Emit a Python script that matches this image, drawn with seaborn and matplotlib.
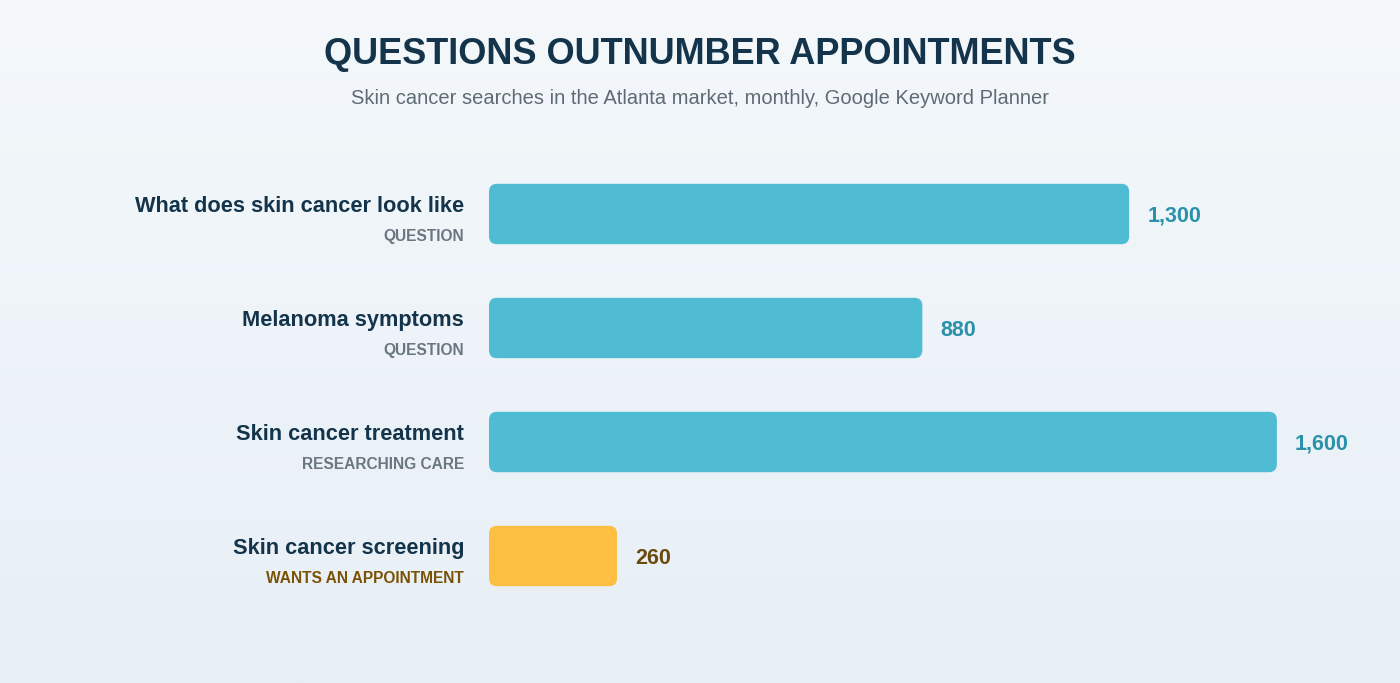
import numpy as np
import pandas as pd
import matplotlib
matplotlib.use("Agg")
import matplotlib.pyplot as plt
import seaborn as sns
from matplotlib.patches import FancyBboxPatch
from matplotlib.colors import LinearSegmentedColormap

labels = ["What does skin cancer look like", "Melanoma symptoms", "Skin cancer treatment", "Skin cancer screening"]
intents = ["QUESTION", "QUESTION", "RESEARCHING CARE", "WANTS AN APPOINTMENT"]
values = [1300, 880, 1600, 260]
value_text = ["1,300", "880", "1,600", "260"]
bar_colors = ["#4fbcd4", "#4fbcd4", "#4fbcd4", "#fdbf42"]
value_colors = ["#2a91ab", "#2a91ab", "#2a91ab", "#6b4a0e"]
intent_colors = ["#6b7780", "#6b7780", "#6b7780", "#7a5206"]

sns.set_style("white")
plt.rcParams['font.family'] = ['Liberation Sans', 'DejaVu Sans']

fig = plt.figure(figsize=(14, 6.83), dpi=100)
bg = fig.add_axes([0, 0, 1, 1], zorder=-10)
grad = np.linspace(0, 1, 256).reshape(-1, 1)
cm = LinearSegmentedColormap.from_list("bg", ["#f4f8fb", "#e7eff6"])
bg.imshow(grad, aspect="auto", cmap=cm, extent=[0, 1, 0, 1], origin="upper")
bg.axis("off")

ax = fig.add_axes([489/1400, (683-613)/683, 911/1400, 456/683])
ax.patch.set_alpha(0)
df = pd.DataFrame({"label": labels, "value": values})
sns.barplot(data=df, x="value", y="label", hue="label", palette=bar_colors, legend=False,
            width=0.53, ax=ax, orient="h", saturation=1)
ax.set_xlim(0, 1850)
ax.set_ylim(3.5, -0.5)
xu = 1850/911; yu = 4/456
for p in list(ax.patches):
    x, y, w, h = p.get_x(), p.get_y(), p.get_width(), p.get_height()
    fc = p.get_facecolor()
    p.remove()
    ax.add_patch(FancyBboxPatch((x, y), w, h, boxstyle=f"round,pad=0,rounding_size={8*xu}",
                                mutation_aspect=yu/xu, facecolor=fc, edgecolor="none"))
for i, v in enumerate(values):
    ax.text(v + 18*xu, i + 0.02, value_text[i], va="center", ha="left", fontsize=15.5,
            fontweight="bold", color=value_colors[i])
    ax.text(-25*xu, i - 0.07, labels[i], va="center", ha="right", fontsize=15.7,
            fontweight="bold", color="#13344a")
    ax.text(-25*xu, i + 0.2, intents[i], va="center", ha="right", fontsize=11.2,
            fontweight="bold", color=intent_colors[i])
ax.set_xlabel(""); ax.set_ylabel("")
ax.set_xticks([]); ax.set_yticks([])
sns.despine(ax=ax, left=True, bottom=True)

fig.text(0.5, 1-55/683, "QUESTIONS OUTNUMBER APPOINTMENTS", ha="center", va="center",
         fontsize=26, fontweight="bold", color="#13344a")
fig.text(0.5, 1-99/683, "Skin cancer searches in the Atlanta market, monthly, Google Keyword Planner",
         ha="center", va="center", fontsize=14.5, color="#5f6b74")
fig.savefig("out.png", dpi=100)
